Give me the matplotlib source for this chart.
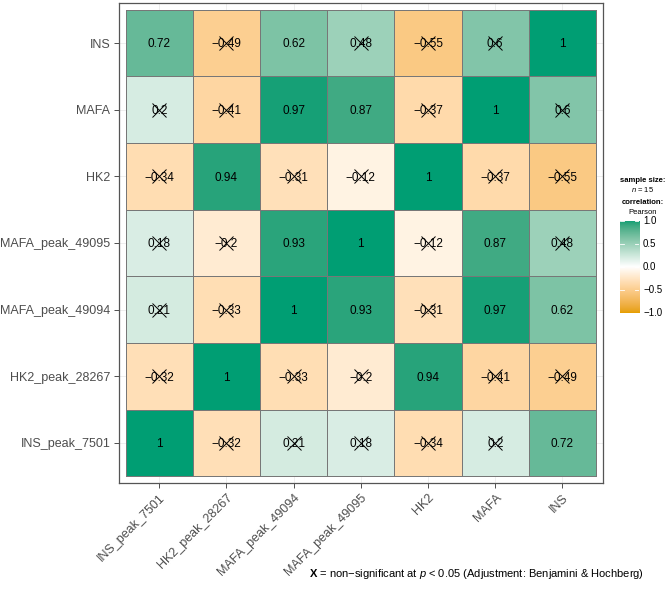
import numpy as np
import matplotlib
matplotlib.use("Agg")
import matplotlib.pyplot as plt
from matplotlib.colors import ListedColormap

plt.rcParams['font.family'] = ['Liberation Sans', 'DejaVu Sans']
plt.rcParams['mathtext.fontset'] = 'custom'
plt.rcParams['mathtext.rm'] = 'Liberation Sans'
plt.rcParams['mathtext.it'] = 'Liberation Sans:italic'
plt.rcParams['mathtext.bf'] = 'Liberation Sans:bold'

# ---------- data ----------
labels = ['INS_peak_7501', 'HK2_peak_28267', 'MAFA_peak_49094', 'MAFA_peak_49095',
          'HK2', 'MAFA', 'INS']
# rows/cols in the same order as labels (row 0 = bottom row)
corr = np.array([
    [1.00, -0.32, 0.21, 0.18, -0.34, 0.20, 0.72],
    [-0.32, 1.00, -0.33, -0.20, 0.94, -0.41, -0.49],
    [0.21, -0.33, 1.00, 0.93, -0.31, 0.97, 0.62],
    [0.18, -0.20, 0.93, 1.00, -0.12, 0.87, 0.48],
    [-0.34, 0.94, -0.31, -0.12, 1.00, -0.37, -0.55],
    [0.20, -0.41, 0.97, 0.87, -0.37, 1.00, 0.60],
    [0.72, -0.49, 0.62, 0.48, -0.55, 0.60, 1.00],
])
signif = np.array([
    [1, 0, 0, 0, 0, 0, 1],
    [0, 1, 0, 0, 1, 0, 0],
    [0, 0, 1, 1, 0, 1, 1],
    [0, 0, 1, 1, 0, 1, 0],
    [0, 1, 0, 0, 1, 0, 0],
    [0, 0, 1, 1, 0, 1, 0],
    [1, 0, 1, 0, 0, 0, 1],
], dtype=bool)
n_obs = 15


# ---------- Lab gradient (like scale_fill_gradient2) ----------
def to_lab(hexcol):
    rgb = np.array([int(hexcol[i:i + 2], 16) / 255 for i in (1, 3, 5)])
    lin = np.where(rgb <= 0.04045, rgb / 12.92, ((rgb + 0.055) / 1.055) ** 2.4)
    M = np.array([[0.4124, 0.3576, 0.1805], [0.2126, 0.7152, 0.0722], [0.0193, 0.1192, 0.9505]])
    xyz = M @ lin / np.array([0.95047, 1.0, 1.08883])
    f = np.where(xyz > 0.008856, np.cbrt(xyz), 7.787 * xyz + 16 / 116)
    return np.array([116 * f[1] - 16, 500 * (f[0] - f[1]), 200 * (f[1] - f[2])])


def from_lab(lab):
    fy = (lab[..., 0] + 16) / 116
    fx = fy + lab[..., 1] / 500
    fz = fy - lab[..., 2] / 200
    f = np.stack([fx, fy, fz], axis=-1)
    xyz = np.where(f > 0.2069, f ** 3, (f - 16 / 116) / 7.787) * np.array([0.95047, 1.0, 1.08883])
    Minv = np.array([[3.2406, -1.5372, -0.4986], [-0.9689, 1.8758, 0.0415], [0.0557, -0.2040, 1.0570]])
    lin = xyz @ Minv.T
    rgb = np.where(lin <= 0.0031308, 12.92 * lin, 1.055 * np.clip(lin, 0, None) ** (1 / 2.4) - 0.055)
    return np.clip(rgb, 0, 1)


low, mid, high = to_lab('#E69F00'), to_lab('#FFFFFF'), to_lab('#009E73')
t = np.linspace(0, 1, 256)[:, None]
lab = np.where(t < 0.5, low + (mid - low) * (t / 0.5), mid + (high - mid) * ((t - 0.5) / 0.5))
cmap = ListedColormap(from_lab(lab))

# ---------- figure ----------
fig = plt.figure(figsize=(6.67, 6.07), dpi=100)
W, H = 667, 607
ax = fig.add_axes([119 / W, 1 - 483 / H, (602.7 - 119) / W, 480 / H])

k = len(labels)
edges = np.arange(k + 1) - 0.5
ax.pcolormesh(edges, edges, corr, cmap=cmap, vmin=-1, vmax=1,
              edgecolors='#777777', linewidth=0.4, zorder=2)

fs = 8.5
for i in range(k):
    for j in range(k):
        v = corr[i, j]
        txt = '1' if v == 1 else f'{v:g}'.replace('-', '\u2212')
        # baseline shifted down by half the cap height so digits are centred
        ax.annotate(txt, (j, i), xytext=(0, -0.36 * fs), textcoords='offset points',
                    ha='center', va='baseline', fontsize=fs, color='black', zorder=3)
        if not signif[i, j]:
            ax.plot(j, i, marker='x', ms=9.5, mew=0.7, color='black', zorder=4)

ax.set_xlim(-0.6, k - 0.4)
ax.set_ylim(-0.6, k - 0.4)
ax.set_xticks(range(k))
ax.set_yticks(range(k))
ax.set_xticklabels(labels, rotation=45, ha='right', va='top', rotation_mode='anchor')
ax.set_yticklabels(labels)
ax.tick_params(length=3.8, width=0.6, color='#333333', labelcolor='#4D4D4D',
               labelsize=9, pad=2.5)
ax.grid(True, color='#EBEBEB', linewidth=0.6, zorder=0)
ax.set_axisbelow(True)
for sp in ax.spines.values():
    sp.set_color('#555555')
    sp.set_linewidth(0.9)

# ---------- colour bar legend ----------
cax = fig.add_axes([620 / W, 1 - 313.3 / H, 19.3 / W, 92.3 / H])
grad = np.linspace(-1, 1, 300)[:, None]
cax.imshow(grad, cmap=cmap, vmin=-1, vmax=1, aspect='auto', origin='lower',
           extent=[0, 1, -1, 1])
cb_ticks = [-1, -0.5, 0, 0.5, 1]
for v in cb_ticks:
    cax.plot([0, 0.2], [v, v], color='white', lw=0.6)
    cax.plot([0.8, 1], [v, v], color='white', lw=0.6)
    ypos = (1 - 313.3 / H) + (v + 1) / 2 * (92.3 / H)
    fig.text(643 / W, ypos, f'{v:.1f}'.replace('-', '\u2212'),
             fontsize=7, va='center', ha='left', color='black')
cax.set_xlim(0, 1)
cax.set_ylim(-1, 1)
cax.axis('off')

fig.text(643 / W, 1 - 180 / H, 'sample size:', fontsize=5.5, fontweight='bold', ha='center', va='center')
fig.text(643 / W, 1 - 189.3 / H, f'$n$ = {n_obs}', fontsize=5.5, ha='center', va='center')
fig.text(643 / W, 1 - 202.3 / H, 'correlation:', fontsize=5.5, fontweight='bold', ha='center', va='center')
fig.text(643 / W, 1 - 212 / H, 'Pearson', fontsize=5.5, ha='center', va='center')

# ---------- caption ----------
fig.text(644 / W, 1 - 574 / H,
         r'$\mathbf{X}$ = non$-$significant at $p$ < 0.05 (Adjustment: Benjamini & Hochberg)',
         fontsize=8, ha='right', va='center')

fig.savefig('out.png', dpi=100)
